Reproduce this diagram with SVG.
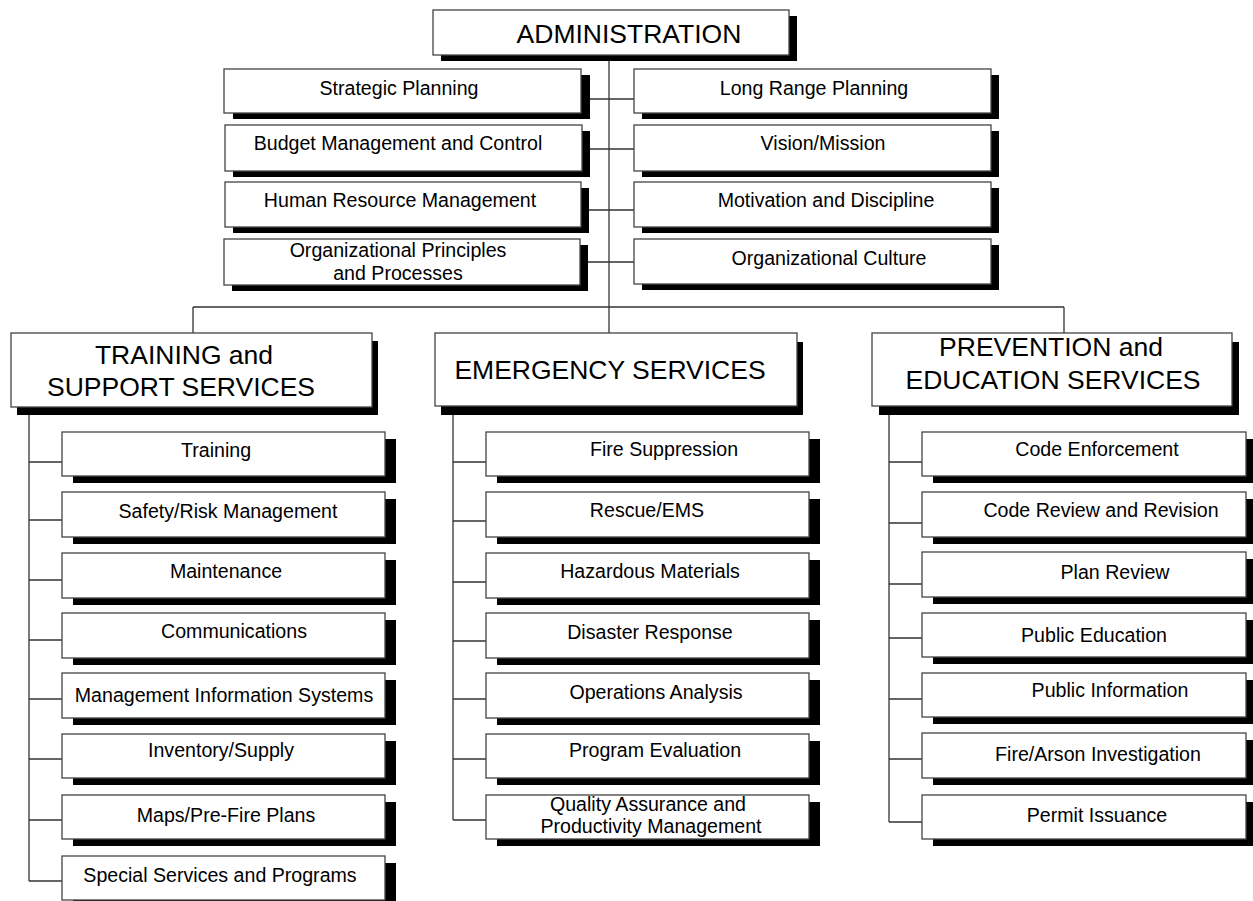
<svg xmlns="http://www.w3.org/2000/svg" width="1253" height="901" viewBox="0 0 1253 901">
<style>
.bg{fill:#fff}
.sh{fill:#000}
.bx{fill:#fff;stroke:#444;stroke-width:1.3}
.ln{stroke:#333;stroke-width:1.3;fill:none}
.t{font-family:"Liberation Sans",Arial,Helvetica,sans-serif;font-size:19.6px;text-anchor:middle;fill:#000}
.h{font-size:26.5px}
</style>
<rect class="bg" x="0" y="0" width="1253" height="901"/>
<g id="connectors">
<path class="ln" d="M609 55V333"/>
<path class="ln" d="M581 99H634M582 149H634M581 210H634M580 262H634"/>
<path class="ln" d="M193 307H1064M193 307V333M1064 307V333"/>
<path class="ln" d="M29 407V881M29 462H62M29 520H62M29 580H62M29 640H62M29 699H62M29 759H62M29 820H62M29 881H62"/>
<path class="ln" d="M453 406V820M453 462H486M453 521H486M453 582H486M453 641H486M453 699H486M453 759H486M453 820H486"/>
<path class="ln" d="M889 406V822M889 462H922M889 523H922M889 584H922M889 638H922M889 699H922M889 759H922M889 822H922"/>
</g>
<g id="administration"><rect class="sh" x="441" y="16" width="356" height="45"/><rect class="bx" x="433" y="10" width="356" height="45"/><text class="t h" x="629" y="43">ADMINISTRATION</text></g>
<g id="strategic-planning"><rect class="sh" x="233" y="75" width="357" height="44"/><rect class="bx" x="224" y="69" width="357" height="44"/><text class="t" x="399" y="95">Strategic Planning</text></g>
<g id="budget"><rect class="sh" x="233" y="131" width="357" height="46"/><rect class="bx" x="225" y="125" width="357" height="46"/><text class="t" x="398" y="150">Budget Management and Control</text></g>
<g id="human-resource"><rect class="sh" x="233" y="188" width="356" height="45"/><rect class="bx" x="225" y="182" width="356" height="45"/><text class="t" x="400" y="207">Human Resource Management</text></g>
<g id="org-principles"><rect class="sh" x="232" y="245" width="356" height="46"/><rect class="bx" x="224" y="239" width="356" height="46"/><text class="t" x="398" y="257">Organizational Principles</text><text class="t" x="398" y="280">and Processes</text></g>
<g id="long-range"><rect class="sh" x="642" y="75" width="357" height="44"/><rect class="bx" x="634" y="69" width="357" height="44"/><text class="t" x="814" y="95">Long Range Planning</text></g>
<g id="vision"><rect class="sh" x="642" y="131" width="357" height="46"/><rect class="bx" x="634" y="125" width="357" height="46"/><text class="t" x="823" y="150">Vision/Mission</text></g>
<g id="motivation"><rect class="sh" x="642" y="188" width="357" height="45"/><rect class="bx" x="634" y="182" width="357" height="45"/><text class="t" x="826" y="207">Motivation and Discipline</text></g>
<g id="org-culture"><rect class="sh" x="642" y="245" width="357" height="45"/><rect class="bx" x="634" y="239" width="357" height="45"/><text class="t" x="829" y="265">Organizational Culture</text></g>
<g id="training-support"><rect class="sh" x="17" y="341" width="361" height="74"/><rect class="bx" x="11" y="333" width="361" height="74"/><text class="t h" x="184" y="364">TRAINING and</text><text class="t h" x="181" y="396">SUPPORT SERVICES</text></g>
<g id="emergency"><rect class="sh" x="441" y="342" width="362" height="73"/><rect class="bx" x="435" y="333" width="362" height="73"/><text class="t h" x="610" y="379">EMERGENCY SERVICES</text></g>
<g id="prevention"><rect class="sh" x="879" y="342" width="360" height="73"/><rect class="bx" x="872" y="333" width="360" height="73"/><text class="t h" x="1051" y="356">PREVENTION and</text><text class="t h" x="1053" y="389">EDUCATION SERVICES</text></g>
<g id="training"><rect class="sh" x="73" y="439" width="323" height="44"/><rect class="bx" x="62" y="432" width="323" height="44"/><text class="t" x="216" y="457">Training</text></g>
<g id="safety"><rect class="sh" x="73" y="499" width="323" height="45"/><rect class="bx" x="62" y="492" width="323" height="45"/><text class="t" x="228" y="518">Safety/Risk Management</text></g>
<g id="maintenance"><rect class="sh" x="73" y="560" width="323" height="45"/><rect class="bx" x="62" y="553" width="323" height="45"/><text class="t" x="226" y="578">Maintenance</text></g>
<g id="communications"><rect class="sh" x="73" y="620" width="323" height="45"/><rect class="bx" x="62" y="613" width="323" height="45"/><text class="t" x="234" y="638">Communications</text></g>
<g id="mis"><rect class="sh" x="73" y="680" width="323" height="45"/><rect class="bx" x="62" y="673" width="323" height="45"/><text class="t" x="224" y="702">Management Information Systems</text></g>
<g id="inventory"><rect class="sh" x="73" y="741" width="323" height="44"/><rect class="bx" x="62" y="734" width="323" height="44"/><text class="t" x="221" y="757">Inventory/Supply</text></g>
<g id="maps"><rect class="sh" x="73" y="802" width="323" height="44"/><rect class="bx" x="62" y="795" width="323" height="44"/><text class="t" x="226" y="822">Maps/Pre-Fire Plans</text></g>
<g id="special"><rect class="sh" x="73" y="863" width="323" height="44"/><rect class="bx" x="62" y="856" width="323" height="44"/><text class="t" x="220" y="882">Special Services and Programs</text></g>
<g id="fire-suppression"><rect class="sh" x="497" y="439" width="323" height="44"/><rect class="bx" x="486" y="432" width="323" height="44"/><text class="t" x="664" y="456">Fire Suppression</text></g>
<g id="rescue"><rect class="sh" x="497" y="499" width="323" height="45"/><rect class="bx" x="486" y="492" width="323" height="45"/><text class="t" x="647" y="517">Rescue/EMS</text></g>
<g id="hazmat"><rect class="sh" x="497" y="560" width="323" height="45"/><rect class="bx" x="486" y="553" width="323" height="45"/><text class="t" x="650" y="578">Hazardous Materials</text></g>
<g id="disaster"><rect class="sh" x="497" y="620" width="323" height="45"/><rect class="bx" x="486" y="613" width="323" height="45"/><text class="t" x="650" y="639">Disaster Response</text></g>
<g id="operations"><rect class="sh" x="497" y="680" width="323" height="45"/><rect class="bx" x="486" y="673" width="323" height="45"/><text class="t" x="656" y="699">Operations Analysis</text></g>
<g id="program-eval"><rect class="sh" x="497" y="741" width="323" height="44"/><rect class="bx" x="486" y="734" width="323" height="44"/><text class="t" x="655" y="757">Program Evaluation</text></g>
<g id="quality"><rect class="sh" x="497" y="802" width="323" height="44"/><rect class="bx" x="486" y="795" width="323" height="44"/><text class="t" x="648" y="811">Quality Assurance and</text><text class="t" x="651" y="833">Productivity Management</text></g>
<g id="code-enforcement"><rect class="sh" x="933" y="439" width="324" height="44"/><rect class="bx" x="922" y="432" width="324" height="44"/><text class="t" x="1097" y="456">Code Enforcement</text></g>
<g id="code-review"><rect class="sh" x="933" y="499" width="324" height="45"/><rect class="bx" x="922" y="492" width="324" height="45"/><text class="t" x="1101" y="517">Code Review and Revision</text></g>
<g id="plan-review"><rect class="sh" x="933" y="559" width="324" height="45"/><rect class="bx" x="922" y="552" width="324" height="45"/><text class="t" x="1115" y="579">Plan Review</text></g>
<g id="public-education"><rect class="sh" x="933" y="620" width="324" height="44"/><rect class="bx" x="922" y="613" width="324" height="44"/><text class="t" x="1094" y="642">Public Education</text></g>
<g id="public-information"><rect class="sh" x="933" y="680" width="324" height="44"/><rect class="bx" x="922" y="673" width="324" height="44"/><text class="t" x="1110" y="697">Public Information</text></g>
<g id="fire-arson"><rect class="sh" x="933" y="740" width="324" height="45"/><rect class="bx" x="922" y="733" width="324" height="45"/><text class="t" x="1098" y="761">Fire/Arson Investigation</text></g>
<g id="permit"><rect class="sh" x="933" y="802" width="324" height="44"/><rect class="bx" x="922" y="795" width="324" height="44"/><text class="t" x="1097" y="822">Permit Issuance</text></g>
</svg>
